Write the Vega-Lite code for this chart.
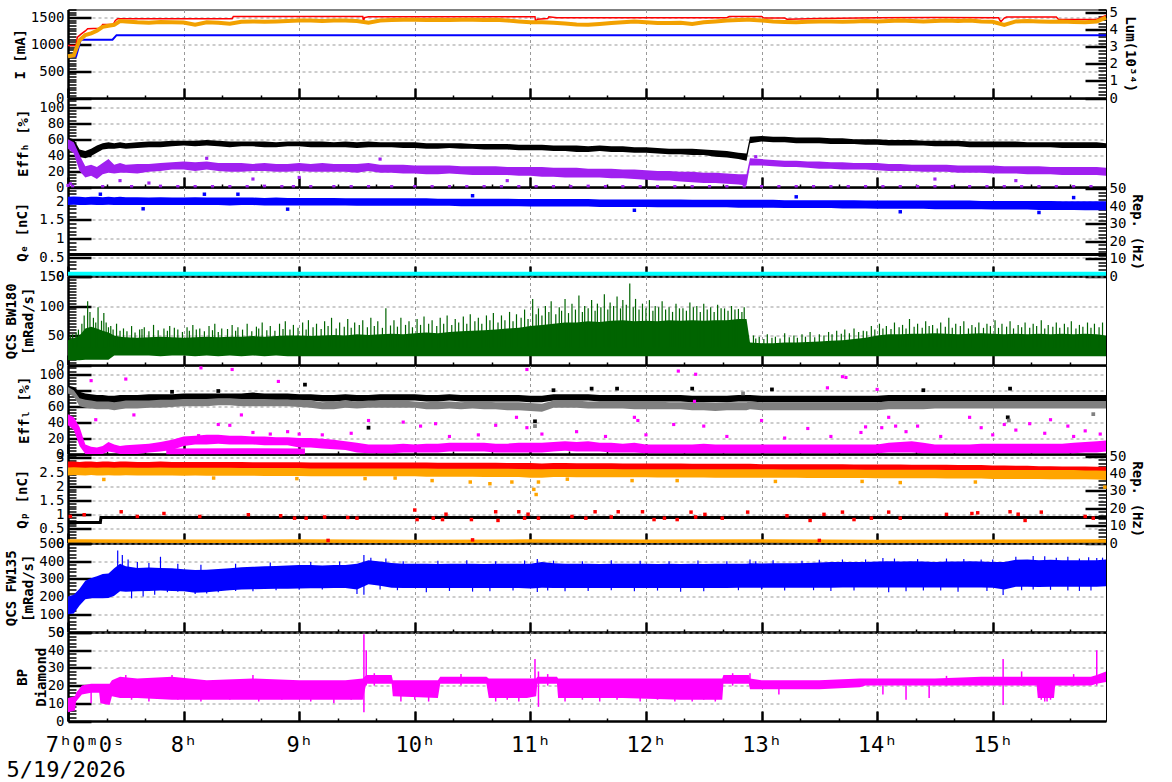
{
"$schema":"https://vega.github.io/schema/vega-lite/v6.json",
"padding":{"left":3,"top":1.5,"right":0,"bottom":0},
"background":"white",
"bounds":"flush",
"spacing":0,
"config":{
 "view":{"stroke":"#000000","strokeWidth":1},
 "font":"DejaVu Sans Mono",
 "axis":{"labelFont":"DejaVu Sans Mono","labelFontSize":14,"labelColor":"#000000","titleFont":"DejaVu Sans Mono","titleFontSize":14,"titleFontWeight":"bold","titleColor":"#000000","domainColor":"#000000","tickColor":"#000000","gridColor":"#999999","gridDash":[3,3],"gridWidth":1,"titleLineHeight":17,"labelOverlap":false,"labelBound":false,"labelFlush":false},
 "axisLeft":{"titleBaseline":"middle","titleAngle":-90,"labelPadding":27,"domainWidth":2.5},
 "axisRight":{"titleBaseline":"middle","titleAngle":90,"labelPadding":24,"domain":false,"grid":false},
 "axisBottom":{"domainWidth":2.5}
},
"datasets":{
"m":[
{"t":7,"o":2.45,"hb0":52,"hb1":62,"hp0":48,"hp1":60,"q0":1.9,"q1":2.12,"g0":8,"g1":42,"lb0":76,"lb1":86,"lg0":76,"lg1":84,"lm0":36,"lm1":50,"pr0":2.62,"pr1":2.87,"po0":2.38,"po1":2.66,"f0":100,"f1":200},
{"t":7.05,"o":2.5,"hb0":48,"hb1":60,"hp0":42,"hp1":56,"q0":1.91,"q1":2.13,"g0":8,"g1":45,"lb0":74,"lb1":84,"lg0":72,"lg1":80,"lm0":30,"lm1":46,"pr0":2.63,"pr1":2.87,"po0":2.4,"po1":2.67,"f0":105,"f1":210},
{"t":7.1,"o":3.4,"hb0":38,"hb1":47,"hp0":20,"hp1":40,"q0":1.9,"q1":2.12,"g0":8,"g1":50,"lb0":68,"lb1":78,"lg0":60,"lg1":70,"lm0":10,"lm1":34,"pr0":2.62,"pr1":2.86,"po0":2.39,"po1":2.66,"f0":150,"f1":245},
{"t":7.15,"o":3.7,"hb0":36,"hb1":45,"hp0":12,"hp1":26,"q0":1.9,"q1":2.11,"g0":9,"g1":62,"lb0":66,"lb1":76,"lg0":58,"lg1":68,"lm0":0,"lm1":12,"pr0":2.62,"pr1":2.87,"po0":2.38,"po1":2.65,"f0":185,"f1":290},
{"t":7.2,"o":3.8,"hb0":39,"hb1":48,"hp0":14,"hp1":28,"q0":1.91,"q1":2.12,"g0":9,"g1":65,"lb0":66,"lb1":75,"lg0":57,"lg1":67,"lm0":0,"lm1":9,"pr0":2.63,"pr1":2.87,"po0":2.4,"po1":2.66,"f0":190,"f1":305},
{"t":7.25,"o":3.95,"hb0":43,"hb1":52,"hp0":10,"hp1":25,"q0":1.9,"q1":2.12,"g0":9,"g1":62,"lb0":65,"lb1":74,"lg0":56,"lg1":66,"lm0":0,"lm1":8,"pr0":2.62,"pr1":2.86,"po0":2.38,"po1":2.65,"f0":190,"f1":315},
{"t":7.3,"o":4.18,"hb0":47,"hb1":55,"hp0":16,"hp1":30,"q0":1.9,"q1":2.11,"g0":9,"g1":58,"lb0":65,"lb1":74,"lg0":56,"lg1":66,"lm0":0,"lm1":10,"pr0":2.62,"pr1":2.87,"po0":2.38,"po1":2.66,"f0":190,"f1":328},
{"t":7.35,"o":4.25,"hb0":48,"hb1":56,"hp0":18,"hp1":35,"q0":1.91,"q1":2.12,"g0":9,"g1":55,"lb0":64,"lb1":73,"lg0":56,"lg1":66,"lm0":3,"lm1":15,"pr0":2.63,"pr1":2.87,"po0":2.39,"po1":2.66,"f0":192,"f1":330},
{"t":7.4,"o":4.3,"hb0":48,"hb1":55,"hp0":17,"hp1":28,"q0":1.9,"q1":2.11,"g0":16,"g1":50,"lb0":64,"lb1":73,"lg0":55,"lg1":65,"lm0":2,"lm1":12,"pr0":2.62,"pr1":2.86,"po0":2.38,"po1":2.65,"f0":205,"f1":360},
{"t":7.45,"o":4.52,"hb0":49,"hb1":56,"hp0":18,"hp1":30,"q0":1.9,"q1":2.12,"g0":16,"g1":48,"lb0":65,"lb1":74,"lg0":56,"lg1":66,"lm0":0,"lm1":10,"pr0":2.62,"pr1":2.87,"po0":2.38,"po1":2.66,"f0":230,"f1":385},
{"t":7.5,"o":4.5,"hb0":48,"hb1":55,"hp0":18,"hp1":28,"q0":1.9,"q1":2.11,"g0":16,"g1":47,"lb0":65,"lb1":74,"lg0":57,"lg1":67,"lm0":0,"lm1":11,"pr0":2.63,"pr1":2.87,"po0":2.39,"po1":2.66,"f0":228,"f1":372},
{"t":7.6,"o":4.45,"hb0":49,"hb1":56,"hp0":17,"hp1":29,"q0":1.9,"q1":2.11,"g0":16,"g1":46,"lb0":66,"lb1":74,"lg0":57,"lg1":67,"lm0":0,"lm1":12,"pr0":2.62,"pr1":2.86,"po0":2.38,"po1":2.65,"f0":230,"f1":362},
{"t":7.7,"o":4.42,"hb0":50,"hb1":57,"hp0":19,"hp1":29,"q0":1.9,"q1":2.1,"g0":16,"g1":47,"lb0":66,"lb1":75,"lg0":58,"lg1":67,"lm0":2,"lm1":13,"pr0":2.62,"pr1":2.86,"po0":2.38,"po1":2.65,"f0":232,"f1":365},
{"t":7.8,"o":4.47,"hb0":50,"hb1":57,"hp0":20,"hp1":30,"q0":1.9,"q1":2.11,"g0":15,"g1":48,"lb0":67,"lb1":75,"lg0":58,"lg1":68,"lm0":3,"lm1":15,"pr0":2.62,"pr1":2.87,"po0":2.38,"po1":2.66,"f0":235,"f1":362},
{"t":7.9,"o":4.45,"hb0":51,"hb1":58,"hp0":22,"hp1":31,"q0":1.9,"q1":2.1,"g0":16,"g1":47,"lb0":67,"lb1":75,"lg0":59,"lg1":68,"lm0":5,"lm1":18,"pr0":2.62,"pr1":2.86,"po0":2.38,"po1":2.65,"f0":232,"f1":360},
{"t":8,"o":4.44,"hb0":52,"hb1":58,"hp0":22,"hp1":32,"q0":1.9,"q1":2.1,"g0":16,"g1":46,"lb0":68,"lb1":76,"lg0":60,"lg1":69,"lm0":10,"lm1":22,"pr0":2.62,"pr1":2.86,"po0":2.37,"po1":2.65,"f0":230,"f1":355},
{"t":8.1,"o":4.3,"hb0":51,"hb1":58,"hp0":20,"hp1":31,"q0":1.9,"q1":2.11,"g0":15,"g1":47,"lb0":68,"lb1":76,"lg0":60,"lg1":69,"lm0":12,"lm1":23,"pr0":2.62,"pr1":2.86,"po0":2.38,"po1":2.65,"f0":222,"f1":350},
{"t":8.2,"o":4.45,"hb0":52,"hb1":59,"hp0":22,"hp1":32,"q0":1.9,"q1":2.1,"g0":16,"g1":48,"lb0":68,"lb1":76,"lg0":60,"lg1":69,"lm0":12,"lm1":24,"pr0":2.62,"pr1":2.86,"po0":2.37,"po1":2.65,"f0":225,"f1":352},
{"t":8.3,"o":4.42,"hb0":51,"hb1":58,"hp0":20,"hp1":30,"q0":1.9,"q1":2.1,"g0":15,"g1":47,"lb0":68,"lb1":76,"lg0":61,"lg1":70,"lm0":13,"lm1":24,"pr0":2.62,"pr1":2.86,"po0":2.37,"po1":2.65,"f0":230,"f1":356},
{"t":8.4,"o":4.36,"hb0":50,"hb1":57,"hp0":19,"hp1":30,"q0":1.89,"q1":2.1,"g0":16,"g1":48,"lb0":68,"lb1":76,"lg0":61,"lg1":70,"lm0":12,"lm1":23,"pr0":2.61,"pr1":2.86,"po0":2.37,"po1":2.65,"f0":236,"f1":360},
{"t":8.5,"o":4.48,"hb0":51,"hb1":57,"hp0":19,"hp1":30,"q0":1.9,"q1":2.1,"g0":15,"g1":48,"lb0":68,"lb1":76,"lg0":60,"lg1":69,"lm0":12,"lm1":23,"pr0":2.62,"pr1":2.86,"po0":2.37,"po1":2.64,"f0":240,"f1":366},
{"t":8.6,"o":4.5,"hb0":51,"hb1":57,"hp0":20,"hp1":29,"q0":1.9,"q1":2.1,"g0":16,"g1":49,"lb0":68,"lb1":77,"lg0":60,"lg1":69,"lm0":12,"lm1":22,"pr0":2.61,"pr1":2.85,"po0":2.37,"po1":2.64,"f0":242,"f1":368},
{"t":8.7,"o":4.48,"hb0":50,"hb1":57,"hp0":20,"hp1":30,"q0":1.89,"q1":2.09,"g0":15,"g1":48,"lb0":68,"lb1":76,"lg0":60,"lg1":69,"lm0":11,"lm1":22,"pr0":2.62,"pr1":2.85,"po0":2.36,"po1":2.64,"f0":243,"f1":372},
{"t":8.8,"o":4.5,"hb0":50,"hb1":56,"hp0":19,"hp1":29,"q0":1.89,"q1":2.1,"g0":16,"g1":49,"lb0":68,"lb1":76,"lg0":60,"lg1":68,"lm0":11,"lm1":21,"pr0":2.61,"pr1":2.85,"po0":2.36,"po1":2.64,"f0":245,"f1":373},
{"t":8.9,"o":4.52,"hb0":51,"hb1":57,"hp0":19,"hp1":29,"q0":1.89,"q1":2.09,"g0":15,"g1":50,"lb0":68,"lb1":76,"lg0":60,"lg1":68,"lm0":11,"lm1":21,"pr0":2.61,"pr1":2.85,"po0":2.36,"po1":2.64,"f0":245,"f1":376},
{"t":9,"o":4.55,"hb0":51,"hb1":57,"hp0":20,"hp1":30,"q0":1.89,"q1":2.09,"g0":15,"g1":50,"lb0":67,"lb1":75,"lg0":59,"lg1":68,"lm0":8,"lm1":20,"pr0":2.61,"pr1":2.85,"po0":2.36,"po1":2.64,"f0":246,"f1":378},
{"t":9.1,"o":4.55,"hb0":50,"hb1":57,"hp0":19,"hp1":29,"q0":1.89,"q1":2.09,"g0":15,"g1":49,"lb0":67,"lb1":75,"lg0":58,"lg1":67,"lm0":8,"lm1":20,"pr0":2.6,"pr1":2.84,"po0":2.35,"po1":2.63,"f0":247,"f1":378},
{"t":9.2,"o":4.52,"hb0":50,"hb1":57,"hp0":19,"hp1":30,"q0":1.89,"q1":2.09,"g0":15,"g1":50,"lb0":66,"lb1":74,"lg0":56,"lg1":65,"lm0":7,"lm1":19,"pr0":2.6,"pr1":2.84,"po0":2.35,"po1":2.63,"f0":247,"f1":376},
{"t":9.3,"o":4.55,"hb0":50,"hb1":56,"hp0":19,"hp1":29,"q0":1.89,"q1":2.09,"g0":15,"g1":51,"lb0":66,"lb1":74,"lg0":56,"lg1":66,"lm0":6,"lm1":18,"pr0":2.6,"pr1":2.84,"po0":2.35,"po1":2.63,"f0":248,"f1":378},
{"t":9.4,"o":4.56,"hb0":50,"hb1":57,"hp0":19,"hp1":29,"q0":1.89,"q1":2.08,"g0":15,"g1":50,"lb0":67,"lb1":75,"lg0":58,"lg1":67,"lm0":5,"lm1":16,"pr0":2.6,"pr1":2.84,"po0":2.35,"po1":2.63,"f0":248,"f1":379},
{"t":9.5,"o":4.53,"hb0":49,"hb1":56,"hp0":18,"hp1":29,"q0":1.88,"q1":2.08,"g0":15,"g1":52,"lb0":66,"lb1":74,"lg0":57,"lg1":66,"lm0":2,"lm1":14,"pr0":2.6,"pr1":2.84,"po0":2.35,"po1":2.63,"f0":240,"f1":385},
{"t":9.6,"o":4.42,"hb0":50,"hb1":57,"hp0":20,"hp1":30,"q0":1.88,"q1":2.08,"g0":15,"g1":51,"lb0":66,"lb1":74,"lg0":58,"lg1":67,"lm0":1,"lm1":12,"pr0":2.6,"pr1":2.84,"po0":2.35,"po1":2.63,"f0":270,"f1":405},
{"t":9.7,"o":4.55,"hb0":50,"hb1":56,"hp0":18,"hp1":28,"q0":1.88,"q1":2.08,"g0":15,"g1":52,"lb0":67,"lb1":75,"lg0":58,"lg1":67,"lm0":1,"lm1":12,"pr0":2.6,"pr1":2.84,"po0":2.35,"po1":2.63,"f0":262,"f1":398},
{"t":9.8,"o":4.58,"hb0":50,"hb1":56,"hp0":18,"hp1":28,"q0":1.88,"q1":2.08,"g0":15,"g1":53,"lb0":67,"lb1":75,"lg0":58,"lg1":67,"lm0":1,"lm1":12,"pr0":2.6,"pr1":2.84,"po0":2.35,"po1":2.63,"f0":250,"f1":390},
{"t":9.9,"o":4.6,"hb0":49,"hb1":56,"hp0":17,"hp1":28,"q0":1.88,"q1":2.08,"g0":15,"g1":52,"lb0":67,"lb1":75,"lg0":58,"lg1":67,"lm0":2,"lm1":13,"pr0":2.6,"pr1":2.84,"po0":2.35,"po1":2.63,"f0":248,"f1":386},
{"t":10,"o":4.6,"hb0":49,"hb1":56,"hp0":17,"hp1":27,"q0":1.88,"q1":2.08,"g0":15,"g1":54,"lb0":67,"lb1":75,"lg0":58,"lg1":66,"lm0":2,"lm1":12,"pr0":2.6,"pr1":2.84,"po0":2.35,"po1":2.63,"f0":248,"f1":385},
{"t":10.1,"o":4.58,"hb0":48,"hb1":55,"hp0":16,"hp1":27,"q0":1.88,"q1":2.08,"g0":15,"g1":55,"lb0":66,"lb1":74,"lg0":56,"lg1":65,"lm0":2,"lm1":13,"pr0":2.6,"pr1":2.84,"po0":2.34,"po1":2.63,"f0":248,"f1":386},
{"t":10.2,"o":4.6,"hb0":48,"hb1":55,"hp0":16,"hp1":27,"q0":1.88,"q1":2.07,"g0":15,"g1":54,"lb0":66,"lb1":74,"lg0":56,"lg1":66,"lm0":2,"lm1":13,"pr0":2.6,"pr1":2.83,"po0":2.34,"po1":2.62,"f0":249,"f1":384},
{"t":10.3,"o":4.58,"hb0":49,"hb1":55,"hp0":17,"hp1":27,"q0":1.88,"q1":2.07,"g0":15,"g1":56,"lb0":67,"lb1":75,"lg0":57,"lg1":66,"lm0":3,"lm1":14,"pr0":2.59,"pr1":2.83,"po0":2.34,"po1":2.62,"f0":248,"f1":386},
{"t":10.4,"o":4.6,"hb0":48,"hb1":55,"hp0":16,"hp1":26,"q0":1.87,"q1":2.07,"g0":15,"g1":57,"lb0":66,"lb1":74,"lg0":56,"lg1":65,"lm0":3,"lm1":14,"pr0":2.59,"pr1":2.83,"po0":2.34,"po1":2.62,"f0":248,"f1":385},
{"t":10.5,"o":4.6,"hb0":48,"hb1":54,"hp0":15,"hp1":26,"q0":1.87,"q1":2.07,"g0":15,"g1":58,"lb0":66,"lb1":74,"lg0":57,"lg1":66,"lm0":3,"lm1":14,"pr0":2.59,"pr1":2.83,"po0":2.34,"po1":2.62,"f0":249,"f1":386},
{"t":10.6,"o":4.58,"hb0":47,"hb1":54,"hp0":15,"hp1":26,"q0":1.87,"q1":2.07,"g0":15,"g1":59,"lb0":66,"lb1":74,"lg0":56,"lg1":66,"lm0":3,"lm1":14,"pr0":2.59,"pr1":2.83,"po0":2.33,"po1":2.62,"f0":248,"f1":384},
{"t":10.7,"o":4.6,"hb0":47,"hb1":54,"hp0":15,"hp1":26,"q0":1.87,"q1":2.07,"g0":15,"g1":60,"lb0":66,"lb1":74,"lg0":56,"lg1":65,"lm0":2,"lm1":13,"pr0":2.59,"pr1":2.83,"po0":2.33,"po1":2.62,"f0":248,"f1":385},
{"t":10.8,"o":4.55,"hb0":47,"hb1":54,"hp0":15,"hp1":25,"q0":1.87,"q1":2.07,"g0":15,"g1":62,"lb0":66,"lb1":74,"lg0":55,"lg1":65,"lm0":2,"lm1":13,"pr0":2.58,"pr1":2.82,"po0":2.33,"po1":2.62,"f0":248,"f1":386},
{"t":10.9,"o":4.5,"hb0":46,"hb1":53,"hp0":14,"hp1":25,"q0":1.87,"q1":2.06,"g0":15,"g1":63,"lb0":66,"lb1":74,"lg0":55,"lg1":65,"lm0":2,"lm1":14,"pr0":2.58,"pr1":2.82,"po0":2.33,"po1":2.61,"f0":248,"f1":385},
{"t":11,"o":4.45,"hb0":46,"hb1":53,"hp0":14,"hp1":25,"q0":1.86,"q1":2.06,"g0":15,"g1":66,"lb0":65,"lb1":73,"lg0":54,"lg1":64,"lm0":2,"lm1":14,"pr0":2.58,"pr1":2.82,"po0":2.3,"po1":2.6,"f0":246,"f1":386},
{"t":11.1,"o":4.45,"hb0":46,"hb1":53,"hp0":13,"hp1":25,"q0":1.86,"q1":2.06,"g0":15,"g1":68,"lb0":65,"lb1":73,"lg0":53,"lg1":63,"lm0":2,"lm1":14,"pr0":2.57,"pr1":2.8,"po0":2.3,"po1":2.6,"f0":250,"f1":395},
{"t":11.2,"o":4.42,"hb0":45,"hb1":52,"hp0":13,"hp1":24,"q0":1.86,"q1":2.06,"g0":15,"g1":70,"lb0":67,"lb1":75,"lg0":58,"lg1":67,"lm0":3,"lm1":15,"pr0":2.58,"pr1":2.82,"po0":2.33,"po1":2.61,"f0":248,"f1":388},
{"t":11.3,"o":4.38,"hb0":45,"hb1":52,"hp0":12,"hp1":24,"q0":1.86,"q1":2.06,"g0":15,"g1":72,"lb0":67,"lb1":75,"lg0":58,"lg1":67,"lm0":4,"lm1":16,"pr0":2.58,"pr1":2.82,"po0":2.33,"po1":2.61,"f0":248,"f1":385},
{"t":11.4,"o":4.32,"hb0":44,"hb1":52,"hp0":12,"hp1":24,"q0":1.86,"q1":2.06,"g0":15,"g1":72,"lb0":67,"lb1":75,"lg0":58,"lg1":67,"lm0":3,"lm1":15,"pr0":2.58,"pr1":2.81,"po0":2.32,"po1":2.61,"f0":248,"f1":386},
{"t":11.5,"o":4.3,"hb0":44,"hb1":51,"hp0":12,"hp1":23,"q0":1.86,"q1":2.06,"g0":15,"g1":74,"lb0":67,"lb1":75,"lg0":57,"lg1":66,"lm0":3,"lm1":16,"pr0":2.58,"pr1":2.81,"po0":2.32,"po1":2.61,"f0":249,"f1":385},
{"t":11.6,"o":4.35,"hb0":45,"hb1":52,"hp0":12,"hp1":23,"q0":1.85,"q1":2.05,"g0":15,"g1":73,"lb0":66,"lb1":74,"lg0":57,"lg1":66,"lm0":3,"lm1":14,"pr0":2.57,"pr1":2.81,"po0":2.32,"po1":2.61,"f0":248,"f1":384},
{"t":11.7,"o":4.4,"hb0":44,"hb1":51,"hp0":11,"hp1":23,"q0":1.85,"q1":2.05,"g0":15,"g1":75,"lb0":66,"lb1":74,"lg0":57,"lg1":66,"lm0":2,"lm1":14,"pr0":2.57,"pr1":2.81,"po0":2.32,"po1":2.61,"f0":248,"f1":385},
{"t":11.8,"o":4.45,"hb0":44,"hb1":51,"hp0":11,"hp1":22,"q0":1.85,"q1":2.05,"g0":15,"g1":76,"lb0":66,"lb1":74,"lg0":57,"lg1":66,"lm0":2,"lm1":13,"pr0":2.57,"pr1":2.8,"po0":2.32,"po1":2.6,"f0":248,"f1":385},
{"t":11.9,"o":4.5,"hb0":43,"hb1":50,"hp0":10,"hp1":22,"q0":1.85,"q1":2.05,"g0":15,"g1":74,"lb0":66,"lb1":74,"lg0":56,"lg1":66,"lm0":2,"lm1":14,"pr0":2.57,"pr1":2.8,"po0":2.32,"po1":2.6,"f0":249,"f1":386},
{"t":12,"o":4.45,"hb0":43,"hb1":50,"hp0":9,"hp1":21,"q0":1.85,"q1":2.05,"g0":15,"g1":75,"lb0":66,"lb1":74,"lg0":56,"lg1":66,"lm0":1,"lm1":12,"pr0":2.57,"pr1":2.8,"po0":2.32,"po1":2.6,"f0":248,"f1":385},
{"t":12.1,"o":4.4,"hb0":42,"hb1":49,"hp0":8,"hp1":20,"q0":1.84,"q1":2.05,"g0":15,"g1":74,"lb0":66,"lb1":74,"lg0":56,"lg1":66,"lm0":1,"lm1":12,"pr0":2.57,"pr1":2.8,"po0":2.31,"po1":2.6,"f0":248,"f1":384},
{"t":12.2,"o":4.4,"hb0":41,"hb1":48,"hp0":8,"hp1":20,"q0":1.84,"q1":2.05,"g0":15,"g1":76,"lb0":66,"lb1":74,"lg0":56,"lg1":65,"lm0":1,"lm1":12,"pr0":2.56,"pr1":2.8,"po0":2.31,"po1":2.6,"f0":248,"f1":385},
{"t":12.3,"o":4.42,"hb0":41,"hb1":48,"hp0":7,"hp1":19,"q0":1.84,"q1":2.05,"g0":15,"g1":75,"lb0":66,"lb1":74,"lg0":56,"lg1":65,"lm0":1,"lm1":12,"pr0":2.56,"pr1":2.8,"po0":2.31,"po1":2.6,"f0":248,"f1":384},
{"t":12.4,"o":4.35,"hb0":40,"hb1":48,"hp0":6,"hp1":19,"q0":1.84,"q1":2.04,"g0":15,"g1":76,"lb0":65,"lb1":73,"lg0":55,"lg1":65,"lm0":1,"lm1":12,"pr0":2.56,"pr1":2.79,"po0":2.31,"po1":2.6,"f0":248,"f1":385},
{"t":12.5,"o":4.45,"hb0":40,"hb1":47,"hp0":5,"hp1":18,"q0":1.84,"q1":2.04,"g0":15,"g1":75,"lb0":65,"lb1":73,"lg0":55,"lg1":65,"lm0":1,"lm1":13,"pr0":2.56,"pr1":2.79,"po0":2.31,"po1":2.6,"f0":248,"f1":384},
{"t":12.6,"o":4.5,"hb0":38,"hb1":46,"hp0":5,"hp1":18,"q0":1.84,"q1":2.04,"g0":15,"g1":76,"lb0":65,"lb1":73,"lg0":54,"lg1":64,"lm0":1,"lm1":12,"pr0":2.56,"pr1":2.79,"po0":2.3,"po1":2.6,"f0":248,"f1":385},
{"t":12.7,"o":4.55,"hb0":37,"hb1":45,"hp0":4,"hp1":17,"q0":1.84,"q1":2.04,"g0":15,"g1":76,"lb0":65,"lb1":73,"lg0":55,"lg1":65,"lm0":1,"lm1":12,"pr0":2.56,"pr1":2.79,"po0":2.3,"po1":2.6,"f0":248,"f1":385},
{"t":12.8,"o":4.58,"hb0":35,"hb1":43,"hp0":3,"hp1":16,"q0":1.83,"q1":2.04,"g0":15,"g1":78,"lb0":66,"lb1":74,"lg0":55,"lg1":65,"lm0":1,"lm1":12,"pr0":2.56,"pr1":2.79,"po0":2.3,"po1":2.6,"f0":250,"f1":386},
{"t":12.87,"o":4.6,"hb0":33,"hb1":42,"hp0":2,"hp1":16,"q0":1.83,"q1":2.04,"g0":15,"g1":78,"lb0":66,"lb1":74,"lg0":55,"lg1":65,"lm0":1,"lm1":12,"pr0":2.56,"pr1":2.79,"po0":2.3,"po1":2.6,"f0":250,"f1":386},
{"t":12.9,"o":4.6,"hb0":55,"hb1":63,"hp0":27,"hp1":36,"q0":1.83,"q1":2.04,"g0":15,"g1":38,"lb0":66,"lb1":74,"lg0":56,"lg1":66,"lm0":1,"lm1":12,"pr0":2.56,"pr1":2.79,"po0":2.3,"po1":2.6,"f0":250,"f1":388},
{"t":13,"o":4.55,"hb0":57,"hb1":64,"hp0":27,"hp1":35,"q0":1.83,"q1":2.04,"g0":15,"g1":37,"lb0":65,"lb1":73,"lg0":55,"lg1":65,"lm0":1,"lm1":12,"pr0":2.55,"pr1":2.78,"po0":2.3,"po1":2.6,"f0":250,"f1":387},
{"t":13.1,"o":4.5,"hb0":56,"hb1":63,"hp0":26,"hp1":34,"q0":1.83,"q1":2.04,"g0":15,"g1":37,"lb0":65,"lb1":73,"lg0":55,"lg1":65,"lm0":1,"lm1":12,"pr0":2.55,"pr1":2.78,"po0":2.3,"po1":2.6,"f0":250,"f1":388},
{"t":13.2,"o":4.47,"hb0":56,"hb1":63,"hp0":25,"hp1":33,"q0":1.82,"q1":2.03,"g0":15,"g1":38,"lb0":65,"lb1":73,"lg0":55,"lg1":65,"lm0":1,"lm1":12,"pr0":2.55,"pr1":2.78,"po0":2.3,"po1":2.59,"f0":250,"f1":389},
{"t":13.3,"o":4.45,"hb0":55,"hb1":62,"hp0":25,"hp1":33,"q0":1.82,"q1":2.03,"g0":15,"g1":38,"lb0":65,"lb1":73,"lg0":55,"lg1":65,"lm0":1,"lm1":12,"pr0":2.55,"pr1":2.78,"po0":2.3,"po1":2.59,"f0":250,"f1":388},
{"t":13.4,"o":4.48,"hb0":55,"hb1":62,"hp0":24,"hp1":32,"q0":1.82,"q1":2.03,"g0":15,"g1":39,"lb0":65,"lb1":73,"lg0":55,"lg1":65,"lm0":1,"lm1":12,"pr0":2.55,"pr1":2.78,"po0":2.29,"po1":2.59,"f0":250,"f1":390},
{"t":13.5,"o":4.5,"hb0":55,"hb1":62,"hp0":23,"hp1":32,"q0":1.82,"q1":2.03,"g0":15,"g1":40,"lb0":65,"lb1":73,"lg0":55,"lg1":65,"lm0":1,"lm1":12,"pr0":2.55,"pr1":2.78,"po0":2.29,"po1":2.59,"f0":250,"f1":392},
{"t":13.6,"o":4.5,"hb0":54,"hb1":61,"hp0":23,"hp1":31,"q0":1.82,"q1":2.03,"g0":15,"g1":41,"lb0":65,"lb1":73,"lg0":55,"lg1":65,"lm0":1,"lm1":12,"pr0":2.55,"pr1":2.78,"po0":2.29,"po1":2.59,"f0":250,"f1":395},
{"t":13.7,"o":4.48,"hb0":54,"hb1":61,"hp0":22,"hp1":31,"q0":1.81,"q1":2.03,"g0":15,"g1":42,"lb0":65,"lb1":73,"lg0":55,"lg1":65,"lm0":1,"lm1":12,"pr0":2.55,"pr1":2.78,"po0":2.29,"po1":2.59,"f0":252,"f1":396},
{"t":13.8,"o":4.5,"hb0":54,"hb1":60,"hp0":22,"hp1":30,"q0":1.81,"q1":2.03,"g0":15,"g1":44,"lb0":65,"lb1":73,"lg0":55,"lg1":65,"lm0":1,"lm1":12,"pr0":2.54,"pr1":2.77,"po0":2.29,"po1":2.59,"f0":252,"f1":395},
{"t":13.9,"o":4.52,"hb0":53,"hb1":60,"hp0":22,"hp1":30,"q0":1.81,"q1":2.02,"g0":15,"g1":46,"lb0":65,"lb1":73,"lg0":55,"lg1":65,"lm0":1,"lm1":12,"pr0":2.54,"pr1":2.77,"po0":2.29,"po1":2.58,"f0":252,"f1":396},
{"t":14,"o":4.5,"hb0":53,"hb1":60,"hp0":21,"hp1":30,"q0":1.8,"q1":2.02,"g0":15,"g1":50,"lb0":65,"lb1":73,"lg0":55,"lg1":65,"lm0":1,"lm1":12,"pr0":2.54,"pr1":2.77,"po0":2.28,"po1":2.58,"f0":252,"f1":398},
{"t":14.1,"o":4.52,"hb0":52,"hb1":59,"hp0":20,"hp1":29,"q0":1.8,"q1":2.02,"g0":15,"g1":52,"lb0":66,"lb1":74,"lg0":56,"lg1":66,"lm0":2,"lm1":14,"pr0":2.54,"pr1":2.77,"po0":2.28,"po1":2.58,"f0":252,"f1":400},
{"t":14.2,"o":4.55,"hb0":52,"hb1":59,"hp0":20,"hp1":29,"q0":1.8,"q1":2.02,"g0":15,"g1":52,"lb0":66,"lb1":74,"lg0":56,"lg1":66,"lm0":2,"lm1":15,"pr0":2.54,"pr1":2.77,"po0":2.28,"po1":2.58,"f0":252,"f1":398},
{"t":14.3,"o":4.52,"hb0":52,"hb1":59,"hp0":20,"hp1":28,"q0":1.8,"q1":2.02,"g0":15,"g1":53,"lb0":66,"lb1":74,"lg0":56,"lg1":66,"lm0":2,"lm1":16,"pr0":2.53,"pr1":2.76,"po0":2.28,"po1":2.58,"f0":252,"f1":400},
{"t":14.4,"o":4.5,"hb0":52,"hb1":58,"hp0":19,"hp1":28,"q0":1.8,"q1":2.02,"g0":15,"g1":53,"lb0":66,"lb1":74,"lg0":56,"lg1":66,"lm0":1,"lm1":14,"pr0":2.53,"pr1":2.76,"po0":2.28,"po1":2.58,"f0":252,"f1":398},
{"t":14.5,"o":4.52,"hb0":51,"hb1":58,"hp0":19,"hp1":28,"q0":1.79,"q1":2.02,"g0":15,"g1":54,"lb0":66,"lb1":74,"lg0":57,"lg1":66,"lm0":1,"lm1":12,"pr0":2.53,"pr1":2.76,"po0":2.28,"po1":2.58,"f0":252,"f1":396},
{"t":14.6,"o":4.55,"hb0":51,"hb1":58,"hp0":19,"hp1":28,"q0":1.79,"q1":2.02,"g0":15,"g1":53,"lb0":66,"lb1":74,"lg0":57,"lg1":66,"lm0":1,"lm1":12,"pr0":2.53,"pr1":2.76,"po0":2.27,"po1":2.57,"f0":252,"f1":398},
{"t":14.7,"o":4.52,"hb0":51,"hb1":58,"hp0":18,"hp1":27,"q0":1.79,"q1":2.02,"g0":15,"g1":52,"lb0":66,"lb1":74,"lg0":57,"lg1":66,"lm0":1,"lm1":12,"pr0":2.52,"pr1":2.75,"po0":2.27,"po1":2.57,"f0":252,"f1":398},
{"t":14.8,"o":4.55,"hb0":50,"hb1":57,"hp0":18,"hp1":27,"q0":1.79,"q1":2.02,"g0":15,"g1":53,"lb0":66,"lb1":74,"lg0":57,"lg1":66,"lm0":1,"lm1":12,"pr0":2.52,"pr1":2.75,"po0":2.27,"po1":2.57,"f0":252,"f1":400},
{"t":14.9,"o":4.5,"hb0":50,"hb1":57,"hp0":18,"hp1":27,"q0":1.79,"q1":2.01,"g0":15,"g1":54,"lb0":66,"lb1":74,"lg0":57,"lg1":66,"lm0":1,"lm1":13,"pr0":2.52,"pr1":2.75,"po0":2.27,"po1":2.57,"f0":252,"f1":398},
{"t":15,"o":4.48,"hb0":50,"hb1":57,"hp0":17,"hp1":27,"q0":1.78,"q1":2.01,"g0":15,"g1":53,"lb0":66,"lb1":74,"lg0":57,"lg1":66,"lm0":1,"lm1":13,"pr0":2.5,"pr1":2.73,"po0":2.26,"po1":2.57,"f0":250,"f1":396},
{"t":15.1,"o":4.3,"hb0":50,"hb1":57,"hp0":17,"hp1":26,"q0":1.78,"q1":2.01,"g0":15,"g1":52,"lb0":66,"lb1":74,"lg0":57,"lg1":66,"lm0":1,"lm1":13,"pr0":2.5,"pr1":2.73,"po0":2.26,"po1":2.57,"f0":240,"f1":395},
{"t":15.2,"o":4.5,"hb0":50,"hb1":57,"hp0":17,"hp1":26,"q0":1.78,"q1":2.01,"g0":15,"g1":53,"lb0":66,"lb1":74,"lg0":57,"lg1":66,"lm0":1,"lm1":13,"pr0":2.5,"pr1":2.72,"po0":2.26,"po1":2.57,"f0":255,"f1":408},
{"t":15.3,"o":4.52,"hb0":50,"hb1":56,"hp0":16,"hp1":26,"q0":1.78,"q1":2.01,"g0":15,"g1":52,"lb0":66,"lb1":74,"lg0":57,"lg1":66,"lm0":1,"lm1":13,"pr0":2.5,"pr1":2.72,"po0":2.26,"po1":2.57,"f0":255,"f1":410},
{"t":15.4,"o":4.5,"hb0":50,"hb1":56,"hp0":16,"hp1":26,"q0":1.77,"q1":2.01,"g0":15,"g1":53,"lb0":66,"lb1":74,"lg0":57,"lg1":66,"lm0":1,"lm1":13,"pr0":2.49,"pr1":2.71,"po0":2.26,"po1":2.57,"f0":254,"f1":405},
{"t":15.5,"o":4.48,"hb0":50,"hb1":56,"hp0":16,"hp1":25,"q0":1.77,"q1":2.01,"g0":15,"g1":52,"lb0":66,"lb1":74,"lg0":57,"lg1":66,"lm0":1,"lm1":13,"pr0":2.49,"pr1":2.71,"po0":2.25,"po1":2.57,"f0":255,"f1":408},
{"t":15.6,"o":4.5,"hb0":49,"hb1":56,"hp0":15,"hp1":25,"q0":1.77,"q1":2.0,"g0":15,"g1":53,"lb0":66,"lb1":74,"lg0":57,"lg1":66,"lm0":1,"lm1":13,"pr0":2.48,"pr1":2.7,"po0":2.25,"po1":2.57,"f0":255,"f1":406},
{"t":15.7,"o":4.47,"hb0":49,"hb1":56,"hp0":15,"hp1":25,"q0":1.77,"q1":2.0,"g0":15,"g1":52,"lb0":66,"lb1":74,"lg0":57,"lg1":66,"lm0":1,"lm1":14,"pr0":2.48,"pr1":2.7,"po0":2.25,"po1":2.57,"f0":255,"f1":405},
{"t":15.8,"o":4.45,"hb0":49,"hb1":56,"hp0":15,"hp1":25,"q0":1.76,"q1":2.0,"g0":15,"g1":53,"lb0":66,"lb1":74,"lg0":57,"lg1":66,"lm0":2,"lm1":15,"pr0":2.48,"pr1":2.7,"po0":2.25,"po1":2.56,"f0":255,"f1":406},
{"t":15.9,"o":4.5,"hb0":49,"hb1":56,"hp0":15,"hp1":25,"q0":1.76,"q1":2.0,"g0":15,"g1":52,"lb0":66,"lb1":74,"lg0":57,"lg1":66,"lm0":2,"lm1":16,"pr0":2.47,"pr1":2.69,"po0":2.24,"po1":2.56,"f0":255,"f1":406},
{"t":15.98,"o":4.72,"hb0":49,"hb1":55,"hp0":14,"hp1":24,"q0":1.76,"q1":2.0,"g0":15,"g1":50,"lb0":66,"lb1":74,"lg0":57,"lg1":66,"lm0":3,"lm1":17,"pr0":2.47,"pr1":2.69,"po0":2.22,"po1":2.55,"f0":258,"f1":410}
],
"bp":[{"t":7,"lo":5,"hi":13},{"t":7.06,"lo":6,"hi":14},{"t":7.07,"lo":11,"hi":16},{"t":7.12,"lo":15,"hi":20},{"t":7.2,"lo":16,"hi":21},{"t":7.27,"lo":16,"hi":21},{"t":7.28,"lo":10,"hi":21},{"t":7.36,"lo":9,"hi":21},{"t":7.38,"lo":14,"hi":23},{"t":7.45,"lo":13,"hi":25},{"t":7.6,"lo":13,"hi":24},{"t":7.9,"lo":12,"hi":25},{"t":8.2,"lo":12,"hi":23},{"t":8.6,"lo":12,"hi":24},{"t":9,"lo":12,"hi":23},{"t":9.4,"lo":12,"hi":23},{"t":9.55,"lo":12,"hi":24},{"t":9.58,"lo":21,"hi":26},{"t":9.8,"lo":21,"hi":26},{"t":9.81,"lo":14,"hi":23},{"t":10.2,"lo":13,"hi":23},{"t":10.22,"lo":21,"hi":25},{"t":10.62,"lo":21,"hi":25},{"t":10.64,"lo":13,"hi":24},{"t":10.97,"lo":13,"hi":24},{"t":11.05,"lo":14,"hi":24},{"t":11.06,"lo":21,"hi":25},{"t":11.23,"lo":21,"hi":25},{"t":11.24,"lo":13,"hi":24},{"t":11.8,"lo":13,"hi":24},{"t":12.3,"lo":12,"hi":24},{"t":12.66,"lo":12,"hi":24},{"t":12.67,"lo":21,"hi":26},{"t":12.89,"lo":21,"hi":26},{"t":12.9,"lo":18,"hi":24},{"t":13,"lo":18,"hi":23},{"t":13.5,"lo":18,"hi":23},{"t":13.85,"lo":19,"hi":24},{"t":13.9,"lo":20,"hi":24},{"t":14.5,"lo":20,"hi":24},{"t":14.9,"lo":20,"hi":25},{"t":15.38,"lo":20,"hi":25},{"t":15.39,"lo":13,"hi":25},{"t":15.53,"lo":13,"hi":25},{"t":15.54,"lo":20,"hi":25},{"t":15.85,"lo":20,"hi":25},{"t":15.9,"lo":21,"hi":26},{"t":15.98,"lo":22,"hi":28}],
"ir":[{"t":7,"v":980},{"t":7.07,"v":980},{"t":7.08,"v":1130},{"t":7.11,"v":1185},{"t":7.15,"v":1250},{"t":7.17,"v":1290},{"t":7.27,"v":1300},{"t":7.29,"v":1340},{"t":7.3,"v":1370},{"t":7.39,"v":1370},{"t":7.41,"v":1445},{"t":7.43,"v":1478},{"t":8.42,"v":1478},{"t":8.43,"v":1520},{"t":9.55,"v":1520},{"t":9.556,"v":1430},{"t":9.565,"v":1500},{"t":9.6,"v":1515},{"t":11.04,"v":1515},{"t":11.045,"v":1420},{"t":11.06,"v":1470},{"t":11.15,"v":1480},{"t":11.16,"v":1515},{"t":11.23,"v":1497},{"t":12.7,"v":1497},{"t":12.72,"v":1520},{"t":13,"v":1520},{"t":13.02,"v":1490},{"t":13.2,"v":1490},{"t":13.22,"v":1470},{"t":13.5,"v":1480},{"t":14,"v":1495},{"t":14.5,"v":1500},{"t":15.05,"v":1495},{"t":15.07,"v":1420},{"t":15.1,"v":1490},{"t":15.12,"v":1510},{"t":15.55,"v":1510},{"t":15.57,"v":1465},{"t":15.9,"v":1465},{"t":15.98,"v":1540}],
"ib":[{"t":7,"v":775},{"t":7.07,"v":775},{"t":7.11,"v":1086},{"t":7.385,"v":1086},{"t":7.42,"v":1172},{"t":15.98,"v":1172}],
"rep":[
{"s":"ek","t":7,"v":12.3},{"s":"ek","t":15.98,"v":12.3},
{"s":"ec","t":7,"v":1.25},{"s":"ec","t":15.98,"v":1.25},
{"s":"pk","t":7,"v":11.8},{"s":"pk","t":7.28,"v":11.8},{"s":"pk","t":7.285,"v":14.7},{"s":"pk","t":15.98,"v":14.7},
{"s":"pc","t":7,"v":1.2},{"s":"pc","t":8,"v":1.0},{"s":"pc","t":9,"v":1.1},{"s":"pc","t":10,"v":0.9},{"s":"pc","t":11,"v":1.1},{"s":"pc","t":12,"v":1.0},{"s":"pc","t":13,"v":1.1},{"s":"pc","t":14,"v":0.9},{"s":"pc","t":15,"v":1.0},{"s":"pc","t":15.98,"v":1.1},
{"s":"lm2","t":7.85,"v":3},{"s":"lm2","t":8.5,"v":3.5},{"s":"lm2","t":9.05,"v":3}
],
"sp":[
{"s":"g","t":7.02,"v":50},{"s":"g","t":7.07,"v":55},{"s":"g","t":7.12,"v":70},{"s":"g","t":7.17,"v":108},{"s":"g","t":7.22,"v":80},{"s":"g","t":7.26,"v":98},{"s":"g","t":7.29,"v":75},{"s":"g","t":7.33,"v":72},{"s":"g","t":7.37,"v":66},{"s":"g","t":7.42,"v":70},{"s":"g","t":7.48,"v":62},{"s":"g","t":7.55,"v":66},{"s":"g","t":7.62,"v":60},{"s":"g","t":7.66,"v":64},{"s":"g","t":7.74,"v":68},{"s":"g","t":7.83,"v":62},{"s":"g","t":7.88,"v":66},{"s":"g","t":7.95,"v":60},{"s":"g","t":8.03,"v":64},{"s":"g","t":8.08,"v":68},{"s":"g","t":8.14,"v":62},{"s":"g","t":8.22,"v":66},{"s":"g","t":8.27,"v":70},{"s":"g","t":8.33,"v":62},{"s":"g","t":8.42,"v":68},{"s":"g","t":8.47,"v":64},{"s":"g","t":8.55,"v":70},{"s":"g","t":8.63,"v":65},{"s":"g","t":8.68,"v":72},{"s":"g","t":8.75,"v":66},{"s":"g","t":8.83,"v":70},{"s":"g","t":8.88,"v":74},{"s":"g","t":8.95,"v":68},{"s":"g","t":9.03,"v":72},{"s":"g","t":9.08,"v":76},{"s":"g","t":9.15,"v":70},{"s":"g","t":9.22,"v":74},{"s":"g","t":9.28,"v":80},{"s":"g","t":9.35,"v":72},{"s":"g","t":9.42,"v":78},{"s":"g","t":9.48,"v":72},{"s":"g","t":9.55,"v":76},{"s":"g","t":9.62,"v":80},{"s":"g","t":9.68,"v":74},{"s":"g","t":9.75,"v":96},{"s":"g","t":9.82,"v":76},{"s":"g","t":9.88,"v":80},{"s":"g","t":9.95,"v":74},{"s":"g","t":10.02,"v":78},{"s":"g","t":10.08,"v":82},{"s":"g","t":10.15,"v":76},{"s":"g","t":10.22,"v":80},{"s":"g","t":10.28,"v":84},{"s":"g","t":10.35,"v":78},{"s":"g","t":10.42,"v":82},{"s":"g","t":10.48,"v":86},{"s":"g","t":10.55,"v":80},{"s":"g","t":10.62,"v":84},{"s":"g","t":10.68,"v":88},{"s":"g","t":10.75,"v":84},{"s":"g","t":10.82,"v":90},{"s":"g","t":10.88,"v":86},{"s":"g","t":10.95,"v":94},{"s":"g","t":11.02,"v":112},{"s":"g","t":11.07,"v":96},{"s":"g","t":11.13,"v":100},{"s":"g","t":11.18,"v":108},{"s":"g","t":11.25,"v":98},{"s":"g","t":11.3,"v":112},{"s":"g","t":11.36,"v":104},{"s":"g","t":11.42,"v":118},{"s":"g","t":11.47,"v":100},{"s":"g","t":11.53,"v":110},{"s":"g","t":11.58,"v":104},{"s":"g","t":11.64,"v":120},{"s":"g","t":11.69,"v":106},{"s":"g","t":11.75,"v":116},{"s":"g","t":11.8,"v":110},{"s":"g","t":11.86,"v":138},{"s":"g","t":11.91,"v":112},{"s":"g","t":11.97,"v":104},{"s":"g","t":12.03,"v":110},{"s":"g","t":12.08,"v":100},{"s":"g","t":12.14,"v":108},{"s":"g","t":12.2,"v":98},{"s":"g","t":12.26,"v":104},{"s":"g","t":12.32,"v":96},{"s":"g","t":12.38,"v":106},{"s":"g","t":12.44,"v":100},{"s":"g","t":12.5,"v":104},{"s":"g","t":12.56,"v":98},{"s":"g","t":12.62,"v":102},{"s":"g","t":12.68,"v":96},{"s":"g","t":12.74,"v":100},{"s":"g","t":12.8,"v":95},{"s":"g","t":12.85,"v":98},{"s":"g","t":12.93,"v":50},{"s":"g","t":12.98,"v":48},{"s":"g","t":13.05,"v":52},{"s":"g","t":13.12,"v":48},{"s":"g","t":13.2,"v":54},{"s":"g","t":13.28,"v":50},{"s":"g","t":13.35,"v":52},{"s":"g","t":13.42,"v":56},{"s":"g","t":13.5,"v":52},{"s":"g","t":13.58,"v":56},{"s":"g","t":13.65,"v":58},{"s":"g","t":13.72,"v":60},{"s":"g","t":13.8,"v":62},{"s":"g","t":13.88,"v":58},{"s":"g","t":13.95,"v":66},{"s":"g","t":14.02,"v":70},{"s":"g","t":14.08,"v":66},{"s":"g","t":14.15,"v":72},{"s":"g","t":14.22,"v":68},{"s":"g","t":14.28,"v":78},{"s":"g","t":14.35,"v":70},{"s":"g","t":14.42,"v":74},{"s":"g","t":14.48,"v":68},{"s":"g","t":14.55,"v":72},{"s":"g","t":14.62,"v":80},{"s":"g","t":14.68,"v":70},{"s":"g","t":14.75,"v":74},{"s":"g","t":14.82,"v":68},{"s":"g","t":14.88,"v":72},{"s":"g","t":14.95,"v":70},{"s":"g","t":15.02,"v":76},{"s":"g","t":15.08,"v":70},{"s":"g","t":15.15,"v":74},{"s":"g","t":15.22,"v":68},{"s":"g","t":15.28,"v":72},{"s":"g","t":15.35,"v":70},{"s":"g","t":15.42,"v":76},{"s":"g","t":15.48,"v":68},{"s":"g","t":15.55,"v":72},{"s":"g","t":15.62,"v":70},{"s":"g","t":15.68,"v":74},{"s":"g","t":15.75,"v":68},{"s":"g","t":15.82,"v":72},{"s":"g","t":15.88,"v":70},{"s":"g","t":15.95,"v":72},
{"s":"g","t":7.04,"v":52},{"s":"g","t":7.09,"v":60},{"s":"g","t":7.14,"v":84},{"s":"g","t":7.19,"v":90},{"s":"g","t":7.24,"v":72},{"s":"g","t":7.31,"v":88},{"s":"g","t":7.35,"v":64},{"s":"g","t":7.39,"v":60},{"s":"g","t":7.45,"v":58},{"s":"g","t":7.51,"v":57},{"s":"g","t":7.58,"v":55},{"s":"g","t":7.64,"v":61},{"s":"g","t":7.7,"v":57},{"s":"g","t":7.78,"v":59},{"s":"g","t":7.86,"v":58},{"s":"g","t":7.92,"v":63},{"s":"g","t":7.99,"v":56},{"s":"g","t":8.05,"v":58},{"s":"g","t":8.11,"v":60},{"s":"g","t":8.18,"v":57},{"s":"g","t":8.25,"v":59},{"s":"g","t":8.3,"v":56},{"s":"g","t":8.38,"v":61},{"s":"g","t":8.45,"v":58},{"s":"g","t":8.51,"v":60},{"s":"g","t":8.59,"v":57},{"s":"g","t":8.65,"v":62},{"s":"g","t":8.72,"v":59},{"s":"g","t":8.79,"v":58},{"s":"g","t":8.86,"v":61},{"s":"g","t":8.92,"v":60},{"s":"g","t":8.99,"v":63},{"s":"g","t":9.06,"v":60},{"s":"g","t":9.12,"v":64},{"s":"g","t":9.19,"v":61},{"s":"g","t":9.25,"v":66},{"s":"g","t":9.32,"v":62},{"s":"g","t":9.39,"v":65},{"s":"g","t":9.45,"v":63},{"s":"g","t":9.52,"v":68},{"s":"g","t":9.59,"v":64},{"s":"g","t":9.65,"v":66},{"s":"g","t":9.72,"v":63},{"s":"g","t":9.79,"v":67},{"s":"g","t":9.85,"v":65},{"s":"g","t":9.92,"v":68},{"s":"g","t":9.98,"v":64},{"s":"g","t":10.05,"v":68},{"s":"g","t":10.12,"v":70},{"s":"g","t":10.19,"v":66},{"s":"g","t":10.25,"v":70},{"s":"g","t":10.32,"v":68},{"s":"g","t":10.38,"v":72},{"s":"g","t":10.45,"v":70},{"s":"g","t":10.52,"v":74},{"s":"g","t":10.58,"v":70},{"s":"g","t":10.65,"v":76},{"s":"g","t":10.72,"v":72},{"s":"g","t":10.78,"v":76},{"s":"g","t":10.85,"v":74},{"s":"g","t":10.92,"v":80},{"s":"g","t":10.98,"v":78},{"s":"g","t":11.05,"v":86},{"s":"g","t":11.1,"v":84},{"s":"g","t":11.16,"v":90},{"s":"g","t":11.22,"v":86},{"s":"g","t":11.27,"v":92},{"s":"g","t":11.33,"v":88},{"s":"g","t":11.39,"v":94},{"s":"g","t":11.45,"v":90},{"s":"g","t":11.5,"v":96},{"s":"g","t":11.56,"v":92},{"s":"g","t":11.61,"v":98},{"s":"g","t":11.67,"v":94},{"s":"g","t":11.72,"v":100},{"s":"g","t":11.78,"v":96},{"s":"g","t":11.83,"v":102},{"s":"g","t":11.89,"v":98},{"s":"g","t":11.94,"v":94},{"s":"g","t":12,"v":96},{"s":"g","t":12.06,"v":92},{"s":"g","t":12.11,"v":98},{"s":"g","t":12.17,"v":94},{"s":"g","t":12.23,"v":90},{"s":"g","t":12.29,"v":96},{"s":"g","t":12.35,"v":92},{"s":"g","t":12.41,"v":98},{"s":"g","t":12.47,"v":90},{"s":"g","t":12.53,"v":94},{"s":"g","t":12.59,"v":90},{"s":"g","t":12.65,"v":96},{"s":"g","t":12.71,"v":92},{"s":"g","t":12.77,"v":94},{"s":"g","t":12.83,"v":90},{"s":"g","t":12.95,"v":45},{"s":"g","t":13.02,"v":44},{"s":"g","t":13.09,"v":46},{"s":"g","t":13.16,"v":45},{"s":"g","t":13.24,"v":47},{"s":"g","t":13.31,"v":46},{"s":"g","t":13.38,"v":48},{"s":"g","t":13.46,"v":47},{"s":"g","t":13.54,"v":50},{"s":"g","t":13.61,"v":52},{"s":"g","t":13.69,"v":53},{"s":"g","t":13.76,"v":54},{"s":"g","t":13.84,"v":56},{"s":"g","t":13.91,"v":57},{"s":"g","t":13.98,"v":60},{"s":"g","t":14.05,"v":62},{"s":"g","t":14.12,"v":61},{"s":"g","t":14.19,"v":64},{"s":"g","t":14.25,"v":62},{"s":"g","t":14.32,"v":65},{"s":"g","t":14.39,"v":63},{"s":"g","t":14.45,"v":66},{"s":"g","t":14.52,"v":62},{"s":"g","t":14.59,"v":65},{"s":"g","t":14.65,"v":63},{"s":"g","t":14.72,"v":66},{"s":"g","t":14.79,"v":62},{"s":"g","t":14.85,"v":64},{"s":"g","t":14.92,"v":63},{"s":"g","t":14.98,"v":66},{"s":"g","t":15.05,"v":63},{"s":"g","t":15.12,"v":65},{"s":"g","t":15.18,"v":62},{"s":"g","t":15.25,"v":64},{"s":"g","t":15.32,"v":63},{"s":"g","t":15.38,"v":66},{"s":"g","t":15.45,"v":62},{"s":"g","t":15.52,"v":65},{"s":"g","t":15.58,"v":63},{"s":"g","t":15.65,"v":64},{"s":"g","t":15.72,"v":62},{"s":"g","t":15.78,"v":65},{"s":"g","t":15.85,"v":63},{"s":"g","t":15.92,"v":64},
{"s":"f","t":7.43,"v":460},{"s":"f","t":7.47,"v":435},{"s":"f","t":7.52,"v":410},{"s":"f","t":7.8,"v":425},{"s":"f","t":9.56,"v":435},{"s":"f","t":9.62,"v":420},{"s":"f","t":11.06,"v":412},{"s":"f","t":12.95,"v":400},{"s":"f","t":13.7,"v":410},{"s":"f","t":14.9,"v":410},{"s":"f","t":15.2,"v":425},{"s":"f","t":15.35,"v":430},{"s":"f","t":15.55,"v":420},{"s":"f","t":15.75,"v":415},{"s":"f","t":15.9,"v":418},
{"s":"f","t":7.6,"v":395},{"s":"f","t":7.7,"v":390},{"s":"f","t":7.95,"v":385},{"s":"f","t":8.15,"v":380},{"s":"f","t":8.45,"v":385},{"s":"f","t":8.75,"v":392},{"s":"f","t":9.1,"v":395},{"s":"f","t":9.35,"v":398},{"s":"f","t":9.75,"v":415},{"s":"f","t":9.9,"v":400},{"s":"f","t":10.2,"v":402},{"s":"f","t":10.45,"v":405},{"s":"f","t":10.7,"v":400},{"s":"f","t":10.95,"v":404},{"s":"f","t":11.2,"v":403},{"s":"f","t":11.45,"v":400},{"s":"f","t":11.7,"v":405},{"s":"f","t":11.95,"v":402},{"s":"f","t":12.2,"v":400},{"s":"f","t":12.45,"v":404},{"s":"f","t":12.7,"v":400},{"s":"f","t":13.1,"v":405},{"s":"f","t":13.35,"v":402},{"s":"f","t":13.5,"v":408},{"s":"f","t":13.9,"v":410},{"s":"f","t":14.05,"v":418},{"s":"f","t":14.15,"v":415},{"s":"f","t":14.35,"v":412},{"s":"f","t":14.6,"v":415},{"s":"f","t":14.75,"v":412},{"s":"f","t":15,"v":410},{"s":"f","t":15.45,"v":428},{"s":"f","t":15.65,"v":425},{"s":"f","t":15.83,"v":422},{"s":"f","t":15.95,"v":420},{"s":"f","t":12.9,"v":410},
{"s":"f","t":7.55,"v":190},{"s":"f","t":7.65,"v":200},{"s":"f","t":7.75,"v":210},{"s":"f","t":7.86,"v":225},{"s":"f","t":8.3,"v":225},{"s":"f","t":8.6,"v":230},{"s":"f","t":9.5,"v":215},{"s":"f","t":9.56,"v":210},{"s":"f","t":10.1,"v":225},{"s":"f","t":10.5,"v":228},{"s":"f","t":11.06,"v":226},{"s":"f","t":11.3,"v":230},{"s":"f","t":11.9,"v":230},{"s":"f","t":12.3,"v":228},{"s":"f","t":13.2,"v":235},{"s":"f","t":13.6,"v":232},{"s":"f","t":14.1,"v":225},{"s":"f","t":14.4,"v":235},{"s":"f","t":15.09,"v":209},{"s":"f","t":15.5,"v":238},{"s":"f","t":15.85,"v":235},
{"s":"f","t":7.95,"v":228},{"s":"f","t":8.1,"v":215},{"s":"f","t":8.2,"v":218},{"s":"f","t":8.45,"v":232},{"s":"f","t":8.8,"v":236},{"s":"f","t":9,"v":238},{"s":"f","t":9.2,"v":240},{"s":"f","t":9.7,"v":240},{"s":"f","t":9.85,"v":236},{"s":"f","t":10.3,"v":232},{"s":"f","t":10.65,"v":230},{"s":"f","t":10.85,"v":234},{"s":"f","t":11.15,"v":235},{"s":"f","t":11.5,"v":232},{"s":"f","t":11.7,"v":236},{"s":"f","t":12.1,"v":234},{"s":"f","t":12.5,"v":230},{"s":"f","t":12.8,"v":236},{"s":"f","t":13,"v":240},{"s":"f","t":13.45,"v":236},{"s":"f","t":13.8,"v":235},{"s":"f","t":14.25,"v":230},{"s":"f","t":14.55,"v":234},{"s":"f","t":14.7,"v":228},{"s":"f","t":14.95,"v":232},{"s":"f","t":15.25,"v":236},{"s":"f","t":15.35,"v":240},{"s":"f","t":15.65,"v":234},{"s":"f","t":15.75,"v":232},
{"s":"d","t":9.56,"v":49},{"s":"d","t":9.58,"v":40},{"s":"d","t":11.04,"v":35},{"s":"d","t":11.07,"v":28},{"s":"d","t":15.09,"v":35},{"s":"d","t":15.25,"v":28},{"s":"d","t":15.9,"v":40},{"s":"d","t":7.9,"v":26},{"s":"d","t":12.9,"v":27},{"s":"d","t":7.5,"v":26},{"s":"d","t":8.6,"v":26},{"s":"d","t":9.65,"v":27},{"s":"d","t":10.4,"v":26.5},{"s":"d","t":11.15,"v":26.5},{"s":"d","t":12.75,"v":27},{"s":"d","t":14.6,"v":25.5},{"s":"d","t":15.7,"v":26.5},
{"s":"d","t":9.56,"v":5},{"s":"d","t":11.07,"v":8},{"s":"d","t":15.09,"v":9},{"s":"d","t":7.2,"v":10},{"s":"d","t":9.3,"v":10},{"s":"d","t":12.4,"v":11},{"s":"d","t":13.15,"v":15},{"s":"d","t":14.05,"v":15},{"s":"d","t":15.45,"v":11},{"s":"d","t":15.5,"v":12},{"s":"d","t":7.55,"v":12},{"s":"d","t":7.7,"v":11},{"s":"d","t":7.95,"v":12},{"s":"d","t":8.15,"v":11},{"s":"d","t":8.4,"v":12},{"s":"d","t":8.65,"v":11},{"s":"d","t":8.85,"v":12},{"s":"d","t":9.1,"v":11},{"s":"d","t":9.45,"v":12},{"s":"d","t":9.88,"v":11},{"s":"d","t":10,"v":12},{"s":"d","t":10.12,"v":11},{"s":"d","t":10.7,"v":11},{"s":"d","t":10.8,"v":12},{"s":"d","t":10.9,"v":11},{"s":"d","t":11.3,"v":11},{"s":"d","t":11.45,"v":12},{"s":"d","t":11.6,"v":11},{"s":"d","t":11.75,"v":12},{"s":"d","t":11.95,"v":11},{"s":"d","t":12.1,"v":12},{"s":"d","t":12.25,"v":11},{"s":"d","t":12.5,"v":12},{"s":"d","t":12.6,"v":11},{"s":"d","t":14.25,"v":12},{"s":"d","t":14.45,"v":13},{"s":"d","t":15.42,"v":12},{"s":"d","t":15.47,"v":11}
],
"pt":[
{"s":"hz","t":7,"v":2},{"s":"hz","t":7.02,"v":4},{"s":"hz","t":7.04,"v":1},{"s":"hz","t":7.3,"v":0.5},{"s":"hz","t":7.55,"v":0.5},{"s":"hz","t":7.8,"v":1},{"s":"hz","t":7.95,"v":0.5},{"s":"hz","t":8.1,"v":0.5},{"s":"hz","t":8.25,"v":0.5},{"s":"hz","t":8.4,"v":0.5},{"s":"hz","t":8.55,"v":0.5},{"s":"hz","t":8.7,"v":1},{"s":"hz","t":8.85,"v":0.5},{"s":"hz","t":8.95,"v":0.5},{"s":"hz","t":9.1,"v":0.5},{"s":"hz","t":9.3,"v":0.5},{"s":"hz","t":9.45,"v":0.5},{"s":"hz","t":9.6,"v":0.5},{"s":"hz","t":9.8,"v":0.5},{"s":"hz","t":10,"v":0.5},{"s":"hz","t":10.15,"v":0.5},{"s":"hz","t":10.3,"v":0.5},{"s":"hz","t":10.45,"v":0.5},{"s":"hz","t":10.6,"v":0.5},{"s":"hz","t":10.75,"v":0.5},{"s":"hz","t":10.9,"v":0.5},{"s":"hz","t":11.05,"v":0.5},{"s":"hz","t":11.2,"v":0.5},{"s":"hz","t":11.35,"v":0.5},{"s":"hz","t":11.5,"v":1},{"s":"hz","t":11.65,"v":0.5},{"s":"hz","t":11.8,"v":0.5},{"s":"hz","t":11.95,"v":0.5},{"s":"hz","t":12.1,"v":0.5},{"s":"hz","t":12.25,"v":0.5},{"s":"hz","t":12.4,"v":0.5},{"s":"hz","t":12.55,"v":0.5},{"s":"hz","t":12.7,"v":0.5},{"s":"hz","t":12.85,"v":0.5},{"s":"hz","t":13,"v":0.5},{"s":"hz","t":13.15,"v":0.5},{"s":"hz","t":13.3,"v":0.5},{"s":"hz","t":13.45,"v":0.5},{"s":"hz","t":13.6,"v":0.5},{"s":"hz","t":13.75,"v":0.5},{"s":"hz","t":13.9,"v":0.5},{"s":"hz","t":14.05,"v":0.5},{"s":"hz","t":14.2,"v":0.5},{"s":"hz","t":14.35,"v":0.5},{"s":"hz","t":14.5,"v":0.5},{"s":"hz","t":14.65,"v":0.5},{"s":"hz","t":14.8,"v":0.5},{"s":"hz","t":14.95,"v":0.5},{"s":"hz","t":15.1,"v":0.5},{"s":"hz","t":15.25,"v":0.5},{"s":"hz","t":15.4,"v":0.5},{"s":"hz","t":15.55,"v":0.5},{"s":"hz","t":15.7,"v":0.5},{"s":"hz","t":15.85,"v":0.5},
{"s":"hz","t":7.45,"v":8},{"s":"hz","t":8.6,"v":10},{"s":"hz","t":9,"v":12},{"s":"hz","t":9.7,"v":35},{"s":"hz","t":10.8,"v":8},{"s":"hz","t":12.95,"v":38},{"s":"hz","t":14.5,"v":10},{"s":"hz","t":15.2,"v":8},{"s":"hz","t":8.2,"v":36},{"s":"hz","t":7.7,"v":5},
{"s":"lm","t":7.2,"v":92},{"s":"lm","t":7.5,"v":94},{"s":"lm","t":8.15,"v":108},{"s":"lm","t":8.42,"v":106},{"s":"lm","t":8.82,"v":91},{"s":"lm","t":7.24,"v":43},{"s":"lm","t":7.57,"v":49},{"s":"lm","t":8.13,"v":23},{"s":"lm","t":8.3,"v":37},{"s":"lm","t":8.4,"v":36},{"s":"lm","t":8.5,"v":49},{"s":"lm","t":8.6,"v":27},{"s":"lm","t":8.75,"v":25},{"s":"lm","t":8.9,"v":28},{"s":"lm","t":9,"v":25},{"s":"lm","t":10.97,"v":106},{"s":"lm","t":12.28,"v":104},{"s":"lm","t":12.43,"v":100},{"s":"lm","t":9.6,"v":42},{"s":"lm","t":9.9,"v":40},{"s":"lm","t":10.05,"v":35},{"s":"lm","t":10.18,"v":38},{"s":"lm","t":10.7,"v":36},{"s":"lm","t":10.88,"v":46},{"s":"lm","t":10.97,"v":33},{"s":"lm","t":11.9,"v":46},{"s":"lm","t":11.93,"v":42},{"s":"lm","t":12.24,"v":37},{"s":"lm","t":13.7,"v":97},{"s":"lm","t":13.73,"v":96},{"s":"lm","t":13.57,"v":83},{"s":"lm","t":14,"v":81},{"s":"lm","t":12.42,"v":66},{"s":"lm","t":13,"v":42},{"s":"lm","t":12.5,"v":35},{"s":"lm","t":13.4,"v":32},{"s":"lm","t":13.86,"v":27},{"s":"lm","t":13.9,"v":34},{"s":"lm","t":14.04,"v":33},{"s":"lm","t":14.1,"v":46},{"s":"lm","t":14.16,"v":35},{"s":"lm","t":14.35,"v":35},{"s":"lm","t":14.8,"v":46},{"s":"lm","t":14.9,"v":33},{"s":"lm","t":15.32,"v":38},{"s":"lm","t":15.5,"v":43},{"s":"lm","t":15.65,"v":35},{"s":"lm","t":15.8,"v":29},{"s":"lm","t":15.93,"v":25},{"s":"lm","t":15.1,"v":37},{"s":"lm","t":9.2,"v":24},{"s":"lm","t":9.45,"v":26},{"s":"lm","t":10.3,"v":22},{"s":"lm","t":10.55,"v":24},{"s":"lm","t":11.1,"v":25},{"s":"lm","t":11.4,"v":28},{"s":"lm","t":11.65,"v":22},{"s":"lm","t":12,"v":24},{"s":"lm","t":12.7,"v":22},{"s":"lm","t":13.2,"v":20},{"s":"lm","t":13.6,"v":22},{"s":"lm","t":14.25,"v":28},{"s":"lm","t":14.55,"v":22},{"s":"lm","t":15,"v":24},{"s":"lm","t":15.2,"v":30},{"s":"lm","t":15.45,"v":26},{"s":"lm","t":15.7,"v":22},
{"s":"lk","t":9.05,"v":87},{"s":"lk","t":12.4,"v":82},{"s":"lk","t":11.2,"v":80},{"s":"lk","t":11.53,"v":82},{"s":"lk","t":11.75,"v":82},{"s":"lk","t":11.04,"v":41},{"s":"lk","t":9.6,"v":33},{"s":"lk","t":13.09,"v":81},{"s":"lk","t":14.4,"v":80},{"s":"lk","t":15.15,"v":82},{"s":"lk","t":15.13,"v":46},{"s":"lk","t":7.9,"v":78},{"s":"lk","t":8.3,"v":79},
{"s":"lg","t":11.04,"v":35},{"s":"lg","t":12.84,"v":76},{"s":"lg","t":15.87,"v":50},{"s":"lg","t":15.14,"v":42},
{"s":"qe","t":7.28,"v":2.19},{"s":"qe","t":7.65,"v":1.8},{"s":"qe","t":8.18,"v":2.19},{"s":"qe","t":8.47,"v":2.19},{"s":"qe","t":8.9,"v":1.79},{"s":"qe","t":10.5,"v":2.15},{"s":"qe","t":11.9,"v":1.76},{"s":"qe","t":13.3,"v":2.12},{"s":"qe","t":14.2,"v":1.72},{"s":"qe","t":15.4,"v":1.7},{"s":"qe","t":15.7,"v":2.1},
{"s":"qo","t":8.98,"v":2.27},{"s":"qo","t":9.57,"v":2.27},{"s":"qo","t":9.83,"v":2.29},{"s":"qo","t":10.15,"v":2.2},{"s":"qo","t":10.48,"v":2.15},{"s":"qo","t":10.65,"v":2.09},{"s":"qo","t":10.84,"v":2.15},{"s":"qo","t":11.03,"v":1.89},{"s":"qo","t":11.05,"v":1.71},{"s":"qo","t":11.07,"v":2.15},{"s":"qo","t":11.32,"v":2.25},{"s":"qo","t":11.88,"v":2.2},{"s":"qo","t":12.27,"v":2.2},{"s":"qo","t":13.12,"v":2.17},{"s":"qo","t":13.87,"v":2.17},{"s":"qo","t":14.2,"v":2.13},{"s":"qo","t":14.85,"v":2.15},{"s":"qo","t":15.97,"v":1.97},{"s":"qo","t":7.31,"v":2.24},{"s":"qo","t":8.26,"v":2.29},
{"s":"qr","t":8.84,"v":15.7},{"s":"qr","t":8.96,"v":14.3},{"s":"qr","t":9.06,"v":14.3},{"s":"qr","t":9.22,"v":15},{"s":"qr","t":9.42,"v":14.7},{"s":"qr","t":9.5,"v":14.3},{"s":"qr","t":10,"v":19},{"s":"qr","t":10.02,"v":13.5},{"s":"qr","t":10.16,"v":14.3},{"s":"qr","t":10.27,"v":16.6},{"s":"qr","t":10.24,"v":13.5},{"s":"qr","t":10.49,"v":13.5},{"s":"qr","t":10.7,"v":18},{"s":"qr","t":10.72,"v":13},{"s":"qr","t":10.9,"v":18},{"s":"qr","t":10.98,"v":16.6},{"s":"qr","t":10.95,"v":14.3},{"s":"qr","t":11.07,"v":14.3},{"s":"qr","t":11.36,"v":15.3},{"s":"qr","t":11.48,"v":14.3},{"s":"qr","t":11.56,"v":18},{"s":"qr","t":11.7,"v":15},{"s":"qr","t":11.76,"v":18},{"s":"qr","t":11.97,"v":18},{"s":"qr","t":12.07,"v":13.5},{"s":"qr","t":12.16,"v":14.3},{"s":"qr","t":12.27,"v":13.5},{"s":"qr","t":12.39,"v":17.8},{"s":"qr","t":12.43,"v":15},{"s":"qr","t":12.51,"v":16.5},{"s":"qr","t":12.66,"v":14.3},{"s":"qr","t":12.88,"v":17.8},{"s":"qr","t":13.22,"v":15.7},{"s":"qr","t":13.42,"v":13},{"s":"qr","t":13.54,"v":16.5},{"s":"qr","t":13.7,"v":17.8},{"s":"qr","t":13.8,"v":13.5},{"s":"qr","t":13.95,"v":14.3},{"s":"qr","t":14.1,"v":17.8},{"s":"qr","t":14.2,"v":14.3},{"s":"qr","t":14.6,"v":16.5},{"s":"qr","t":14.82,"v":17},{"s":"qr","t":14.87,"v":17.4},{"s":"qr","t":15.15,"v":18},{"s":"qr","t":15.22,"v":16.6},{"s":"qr","t":15.28,"v":13},{"s":"qr","t":15.42,"v":17.8},{"s":"qr","t":15.8,"v":15.3},{"s":"qr","t":15.87,"v":14.3},{"s":"qr","t":7.02,"v":15.3},{"s":"qr","t":7.14,"v":16.3},{"s":"qr","t":7.46,"v":18},{"s":"qr","t":7.6,"v":15.3},{"s":"qr","t":7.83,"v":17},{"s":"qr","t":8.14,"v":15.3},{"s":"qr","t":8.56,"v":16.3},{"s":"qr","t":9.25,"v":1.5},{"s":"qr","t":10.5,"v":1.8},{"s":"qr","t":13.5,"v":1.5}
]
},
"vconcat":[
{"width":1038,"height":88.5,
 "encoding":{"x":{"field":"t","type":"quantitative","scale":{"domain":[7,15.98],"nice":false,"zero":false},"axis":{"values":[7,7.3333,7.6667,8,8.3333,8.6667,9,9.3333,9.6667,10,10.3333,10.6667,11,11.3333,11.6667,12,12.3333,12.6667,13,13.3333,13.6667,14,14.3333,14.6667,15,15.3333,15.6667],"labels":false,"title":null,"tickSize":{"condition":{"test":"datum.value % 1 == 0","value":-10},"value":-3},"tickWidth":{"condition":{"test":"datum.value % 1 == 0","value":2.5},"value":1.5},"gridOpacity":{"condition":{"test":"datum.value % 1 == 0 && datum.value > 7","value":1},"value":0}}}},
 "resolve":{"scale":{"y":"independent"}},
 "layer":[
  {"resolve":{"axis":{"y":"independent"}},
   "layer":[
   {"data":{"name":"ir"},"mark":{"type":"line","color":"#ff0000","strokeWidth":1.5},
    "encoding":{"y":{"field":"v","type":"quantitative","scale":{"domain":[0,1650],"nice":false,"zero":false},
     "axis":{"title":"I [mA]","titleX":-48,"labelOverlap":false,"values":[0,50,100,150,200,250,300,350,400,450,500,550,600,650,700,750,800,850,900,950,1000,1050,1100,1150,1200,1250,1300,1350,1400,1450,1500,1550,1600,1650],"labelExpr":"datum.value % 500 == 0 ? '' + datum.value : ''","tickSize":{"condition":{"test":"datum.value % 500 == 0","value":-23},"value":-8},"tickWidth":{"condition":{"test":"datum.value % 500 == 0","value":2.5},"value":1.5},"gridOpacity":{"condition":{"test":"datum.value % 500 == 0 && datum.value > 0","value":1},"value":0}}}}},
   {"data":{"name":"ib"},"mark":{"type":"line","color":"#0000ff","strokeWidth":2},"encoding":{"y":{"field":"v","type":"quantitative","axis":null}}}
  ]},
  {"data":{"name":"m"},"mark":{"type":"line","color":"#f2a100","strokeWidth":4},
   "encoding":{"y":{"field":"o","type":"quantitative","scale":{"domain":[0,5.2],"nice":false,"zero":false},
    "axis":{"orient":"right","title":"Lum(10³⁴)","titleX":23,"labelOverlap":false,"values":[0,0.2,0.4,0.6,0.8,1,1.2,1.4,1.6,1.8,2,2.2,2.4,2.6,2.8,3,3.2,3.4,3.6,3.8,4,4.2,4.4,4.6,4.8,5,5.2],"labelExpr":"datum.value % 1 == 0 ? '' + datum.value : ''","tickSize":{"condition":{"test":"datum.value % 1 == 0","value":-21},"value":-8},"tickWidth":{"condition":{"test":"datum.value % 1 == 0","value":2.5},"value":1.5}}}}}
 ]},
{"width":1038,"height":88.5,
 "encoding":{"x":{"field":"t","type":"quantitative","scale":{"domain":[7,15.98],"nice":false,"zero":false},"axis":{"values":[7,7.3333,7.6667,8,8.3333,8.6667,9,9.3333,9.6667,10,10.3333,10.6667,11,11.3333,11.6667,12,12.3333,12.6667,13,13.3333,13.6667,14,14.3333,14.6667,15,15.3333,15.6667],"labels":false,"title":null,"tickSize":{"condition":{"test":"datum.value % 1 == 0","value":-10},"value":-3},"tickWidth":{"condition":{"test":"datum.value % 1 == 0","value":2.5},"value":1.5},"gridOpacity":{"condition":{"test":"datum.value % 1 == 0 && datum.value > 7","value":1},"value":0}}}},
 "resolve":{"axis":{"y":"independent"}},
 "layer":[
  {"data":{"name":"m"},"mark":{"type":"area","color":"#000000","opacity":1},
   "encoding":{"y":{"field":"hb0","type":"quantitative","scale":{"domain":[0,111],"nice":false,"zero":false},
    "axis":{"title":"Effₕ [%]","titleX":-45,"labelOverlap":false,"values":[0,4,8,12,16,20,24,28,32,36,40,44,48,52,56,60,64,68,72,76,80,84,88,92,96,100,104,108],"labelExpr":"datum.value % 20 == 0 ? '' + datum.value : ''","tickSize":{"condition":{"test":"datum.value % 20 == 0","value":-23},"value":-8},"tickWidth":{"condition":{"test":"datum.value % 20 == 0","value":2.5},"value":1.5},"gridOpacity":{"condition":{"test":"datum.value % 20 == 0 && datum.value > 0","value":1},"value":0}}},
    "y2":{"field":"hb1"}}},
  {"data":{"name":"m"},"mark":{"type":"area","color":"#a020f0","opacity":1},"encoding":{"y":{"field":"hp0","type":"quantitative","axis":null},"y2":{"field":"hp1"}}},
  {"data":{"name":"pt"},"transform":[{"filter":"datum.s == 'hz'"}],"mark":{"type":"square","size":10,"color":"#a020f0","opacity":1},"encoding":{"y":{"field":"v","type":"quantitative","axis":null}}}
 ]},
{"width":1038,"height":88.5,
 "encoding":{"x":{"field":"t","type":"quantitative","scale":{"domain":[7,15.98],"nice":false,"zero":false},"axis":{"values":[7,7.3333,7.6667,8,8.3333,8.6667,9,9.3333,9.6667,10,10.3333,10.6667,11,11.3333,11.6667,12,12.3333,12.6667,13,13.3333,13.6667,14,14.3333,14.6667,15,15.3333,15.6667],"labels":false,"title":null,"tickSize":{"condition":{"test":"datum.value % 1 == 0","value":-10},"value":-3},"tickWidth":{"condition":{"test":"datum.value % 1 == 0","value":2.5},"value":1.5},"gridOpacity":{"condition":{"test":"datum.value % 1 == 0 && datum.value > 7","value":1},"value":0}}}},
 "resolve":{"scale":{"y":"independent"}},
 "layer":[
  {"resolve":{"axis":{"y":"independent"}},
   "layer":[
   {"data":{"name":"m"},"mark":{"type":"area","color":"#0000ff","opacity":1},
    "encoding":{"y":{"field":"q0","type":"quantitative","scale":{"domain":[0,2.37],"nice":false,"zero":false},
     "axis":{"title":"Qₑ [nC]","titleX":-46,"labelOverlap":false,"values":[0,0.1,0.2,0.3,0.4,0.5,0.6,0.7,0.8,0.9,1,1.1,1.2,1.3,1.4,1.5,1.6,1.7,1.8,1.9,2,2.1,2.2,2.3],"labelExpr":"datum.value % 0.5 == 0 ? '' + datum.value : ''","tickSize":{"condition":{"test":"datum.value % 0.5 == 0","value":-23},"value":-8},"tickWidth":{"condition":{"test":"datum.value % 0.5 == 0","value":2.5},"value":1.5},"gridOpacity":{"condition":{"test":"datum.value % 0.5 == 0 && datum.value > 0","value":1},"value":0}}},
     "y2":{"field":"q1"}}},
   {"data":{"name":"pt"},"transform":[{"filter":"datum.s == 'qe'"}],"mark":{"type":"square","size":12,"color":"#0000ff","opacity":1},"encoding":{"y":{"field":"v","type":"quantitative","axis":null}}}
  ]},
  {"resolve":{"axis":{"y":"independent"}},
   "layer":[
   {"data":{"name":"rep"},"transform":[{"filter":"datum.s == 'ek'"}],"mark":{"type":"line","color":"#000000","strokeWidth":3},
    "encoding":{"y":{"field":"v","type":"quantitative","scale":{"domain":[0,50.7],"nice":false,"zero":false},
     "axis":{"orient":"right","title":"Rep. (Hz)","titleX":30,"labelOverlap":false,"values":[0,2,4,6,8,10,12,14,16,18,20,22,24,26,28,30,32,34,36,38,40,42,44,46,48,50],"labelExpr":"datum.value % 10 == 0 ? '' + datum.value : ''","tickSize":{"condition":{"test":"datum.value % 10 == 0","value":-21},"value":-8},"tickWidth":{"condition":{"test":"datum.value % 10 == 0","value":2.5},"value":1.5}}}}},
   {"data":{"name":"rep"},"transform":[{"filter":"datum.s == 'ec'"}],"mark":{"type":"line","color":"#00ffff","strokeWidth":4},"encoding":{"y":{"field":"v","type":"quantitative","axis":null}}}
  ]}
 ]},
{"width":1038,"height":88.5,
 "encoding":{"x":{"field":"t","type":"quantitative","scale":{"domain":[7,15.98],"nice":false,"zero":false},"axis":{"values":[7,7.3333,7.6667,8,8.3333,8.6667,9,9.3333,9.6667,10,10.3333,10.6667,11,11.3333,11.6667,12,12.3333,12.6667,13,13.3333,13.6667,14,14.3333,14.6667,15,15.3333,15.6667],"labels":false,"title":null,"tickSize":{"condition":{"test":"datum.value % 1 == 0","value":-10},"value":-3},"tickWidth":{"condition":{"test":"datum.value % 1 == 0","value":2.5},"value":1.5},"gridOpacity":{"condition":{"test":"datum.value % 1 == 0 && datum.value > 7","value":1},"value":0}}}},
 "resolve":{"axis":{"y":"independent"}},
 "layer":[
  {"data":{"name":"m"},"mark":{"type":"area","color":"#006400","opacity":1},
   "encoding":{"y":{"field":"g0","type":"quantitative","scale":{"domain":[0,150],"nice":false,"zero":false},
    "axis":{"title":["QCS BW180","[mRad/s]"],"titleX":-57,"labelOverlap":false,"values":[0,5,10,15,20,25,30,35,40,45,50,55,60,65,70,75,80,85,90,95,100,105,110,115,120,125,130,135,140,145,150],"labelExpr":"datum.value % 50 == 0 ? '' + datum.value : ''","tickSize":{"condition":{"test":"datum.value % 50 == 0","value":-23},"value":-8},"tickWidth":{"condition":{"test":"datum.value % 50 == 0","value":2.5},"value":1.5},"gridOpacity":{"condition":{"test":"datum.value % 50 == 0 && datum.value > 0","value":1},"value":0}}},
    "y2":{"field":"g1"}}},
  {"data":{"name":"sp"},"transform":[{"filter":"datum.s == 'g'"}],"mark":{"type":"rule","color":"#006400","strokeWidth":1.2},"encoding":{"y":{"field":"v","type":"quantitative","axis":null},"y2":{"datum":30}}}
 ]},
{"width":1038,"height":88.5,
 "encoding":{"x":{"field":"t","type":"quantitative","scale":{"domain":[7,15.98],"nice":false,"zero":false},"axis":{"values":[7,7.3333,7.6667,8,8.3333,8.6667,9,9.3333,9.6667,10,10.3333,10.6667,11,11.3333,11.6667,12,12.3333,12.6667,13,13.3333,13.6667,14,14.3333,14.6667,15,15.3333,15.6667],"labels":false,"title":null,"tickSize":{"condition":{"test":"datum.value % 1 == 0","value":-10},"value":-3},"tickWidth":{"condition":{"test":"datum.value % 1 == 0","value":2.5},"value":1.5},"gridOpacity":{"condition":{"test":"datum.value % 1 == 0 && datum.value > 7","value":1},"value":0}}}},
 "resolve":{"axis":{"y":"independent"}},
 "layer":[
  {"data":{"name":"m"},"mark":{"type":"area","color":"#000000","opacity":1},
   "encoding":{"y":{"field":"lb0","type":"quantitative","scale":{"domain":[0,111],"nice":false,"zero":false},
    "axis":{"title":"Effₗ [%]","titleX":-44,"labelOverlap":false,"values":[0,4,8,12,16,20,24,28,32,36,40,44,48,52,56,60,64,68,72,76,80,84,88,92,96,100,104,108],"labelExpr":"datum.value % 20 == 0 ? '' + datum.value : ''","tickSize":{"condition":{"test":"datum.value % 20 == 0","value":-23},"value":-8},"tickWidth":{"condition":{"test":"datum.value % 20 == 0","value":2.5},"value":1.5},"gridOpacity":{"condition":{"test":"datum.value % 20 == 0 && datum.value > 0","value":1},"value":0}}},
    "y2":{"field":"lb1"}}},
  {"data":{"name":"m"},"mark":{"type":"area","color":"#808080","opacity":1},"encoding":{"y":{"field":"lg0","type":"quantitative","axis":null},"y2":{"field":"lg1"}}},
  {"data":{"name":"m"},"mark":{"type":"area","color":"#ff00ff","opacity":1},"encoding":{"y":{"field":"lm0","type":"quantitative","axis":null},"y2":{"field":"lm1"}}},
  {"data":{"name":"rep"},"transform":[{"filter":"datum.s == 'lm2'"}],"mark":{"type":"line","color":"#ff00ff","strokeWidth":6},"encoding":{"y":{"field":"v","type":"quantitative","axis":null}}},
  {"data":{"name":"pt"},"transform":[{"filter":"datum.s == 'lm'"}],"mark":{"type":"square","size":10,"color":"#ff00ff","opacity":1},"encoding":{"y":{"field":"v","type":"quantitative","axis":null}}},
  {"data":{"name":"pt"},"transform":[{"filter":"datum.s == 'lk'"}],"mark":{"type":"square","size":14,"color":"#000000","opacity":1},"encoding":{"y":{"field":"v","type":"quantitative","axis":null}}},
  {"data":{"name":"pt"},"transform":[{"filter":"datum.s == 'lg'"}],"mark":{"type":"square","size":14,"color":"#808080","opacity":1},"encoding":{"y":{"field":"v","type":"quantitative","axis":null}}}
 ]},
{"width":1038,"height":88.5,
 "encoding":{"x":{"field":"t","type":"quantitative","scale":{"domain":[7,15.98],"nice":false,"zero":false},"axis":{"values":[7,7.3333,7.6667,8,8.3333,8.6667,9,9.3333,9.6667,10,10.3333,10.6667,11,11.3333,11.6667,12,12.3333,12.6667,13,13.3333,13.6667,14,14.3333,14.6667,15,15.3333,15.6667],"labels":false,"title":null,"tickSize":{"condition":{"test":"datum.value % 1 == 0","value":-10},"value":-3},"tickWidth":{"condition":{"test":"datum.value % 1 == 0","value":2.5},"value":1.5},"gridOpacity":{"condition":{"test":"datum.value % 1 == 0 && datum.value > 7","value":1},"value":0}}}},
 "resolve":{"scale":{"y":"independent"}},
 "layer":[
  {"resolve":{"axis":{"y":"independent"}},
   "layer":[
   {"data":{"name":"m"},"mark":{"type":"area","color":"#ff0000","opacity":1},
    "encoding":{"y":{"field":"pr0","type":"quantitative","scale":{"domain":[0,3.12],"nice":false,"zero":false},
     "axis":{"title":"Qₚ [nC]","titleX":-46,"labelOverlap":false,"values":[0,0.1,0.2,0.3,0.4,0.5,0.6,0.7,0.8,0.9,1,1.1,1.2,1.3,1.4,1.5,1.6,1.7,1.8,1.9,2,2.1,2.2,2.3,2.4,2.5,2.6,2.7,2.8,2.9,3,3.1],"labelExpr":"datum.value % 0.5 == 0 ? '' + datum.value : ''","tickSize":{"condition":{"test":"datum.value % 0.5 == 0","value":-23},"value":-8},"tickWidth":{"condition":{"test":"datum.value % 0.5 == 0","value":2.5},"value":1.5},"gridOpacity":{"condition":{"test":"datum.value % 0.5 == 0 && datum.value > 0","value":1},"value":0}}},
     "y2":{"field":"pr1"}}},
   {"data":{"name":"m"},"mark":{"type":"area","color":"#ffa500","opacity":1},"encoding":{"y":{"field":"po0","type":"quantitative","axis":null},"y2":{"field":"po1"}}},
   {"data":{"name":"pt"},"transform":[{"filter":"datum.s == 'qo'"}],"mark":{"type":"square","size":12,"color":"#ffa500","opacity":1},"encoding":{"y":{"field":"v","type":"quantitative","axis":null}}}
  ]},
  {"resolve":{"axis":{"y":"independent"}},
   "layer":[
   {"data":{"name":"rep"},"transform":[{"filter":"datum.s == 'pk'"}],"mark":{"type":"line","color":"#000000","strokeWidth":3},
    "encoding":{"y":{"field":"v","type":"quantitative","scale":{"domain":[0,51],"nice":false,"zero":false},
     "axis":{"orient":"right","title":"Rep. (Hz)","titleX":30,"labelOverlap":false,"values":[0,2,4,6,8,10,12,14,16,18,20,22,24,26,28,30,32,34,36,38,40,42,44,46,48,50],"labelExpr":"datum.value % 10 == 0 ? '' + datum.value : ''","tickSize":{"condition":{"test":"datum.value % 10 == 0","value":-21},"value":-8},"tickWidth":{"condition":{"test":"datum.value % 10 == 0","value":2.5},"value":1.5}}}}},
   {"data":{"name":"rep"},"transform":[{"filter":"datum.s == 'pc'"}],"mark":{"type":"line","color":"#ffa500","strokeWidth":3.5},"encoding":{"y":{"field":"v","type":"quantitative","axis":null}}},
   {"data":{"name":"pt"},"transform":[{"filter":"datum.s == 'qr'"}],"mark":{"type":"square","size":12,"color":"#ff0000","opacity":1},"encoding":{"y":{"field":"v","type":"quantitative","axis":null}}}
  ]}
 ]},
{"width":1038,"height":88.5,
 "encoding":{"x":{"field":"t","type":"quantitative","scale":{"domain":[7,15.98],"nice":false,"zero":false},"axis":{"values":[7,7.3333,7.6667,8,8.3333,8.6667,9,9.3333,9.6667,10,10.3333,10.6667,11,11.3333,11.6667,12,12.3333,12.6667,13,13.3333,13.6667,14,14.3333,14.6667,15,15.3333,15.6667],"labels":false,"title":null,"tickSize":{"condition":{"test":"datum.value % 1 == 0","value":-10},"value":-3},"tickWidth":{"condition":{"test":"datum.value % 1 == 0","value":2.5},"value":1.5},"gridOpacity":{"condition":{"test":"datum.value % 1 == 0 && datum.value > 7","value":1},"value":0}}}},
 "resolve":{"axis":{"y":"independent"}},
 "layer":[
  {"data":{"name":"m"},"mark":{"type":"area","color":"#0000ff","opacity":1},
   "encoding":{"y":{"field":"f0","type":"quantitative","scale":{"domain":[0,500],"nice":false,"zero":false},
    "axis":{"title":["QCS FW135","[mRad/s]"],"titleX":-57,"labelOverlap":false,"values":[0,20,40,60,80,100,120,140,160,180,200,220,240,260,280,300,320,340,360,380,400,420,440,460,480,500],"labelExpr":"datum.value % 100 == 0 ? '' + datum.value : ''","tickSize":{"condition":{"test":"datum.value % 100 == 0","value":-23},"value":-8},"tickWidth":{"condition":{"test":"datum.value % 100 == 0","value":2.5},"value":1.5},"gridOpacity":{"condition":{"test":"datum.value % 100 == 0 && datum.value > 0","value":1},"value":0}}},
    "y2":{"field":"f1"}}},
  {"data":{"name":"sp"},"transform":[{"filter":"datum.s == 'f'"}],"mark":{"type":"rule","color":"#0000ff","strokeWidth":1.2},"encoding":{"y":{"field":"v","type":"quantitative","axis":null},"y2":{"datum":320}}}
 ]},
{"width":1038,"height":88.5,
 "encoding":{"x":{"field":"t","type":"quantitative","scale":{"domain":[7,15.98],"nice":false,"zero":false},"axis":{"values":[7,7.3333,7.6667,8,8.3333,8.6667,9,9.3333,9.6667,10,10.3333,10.6667,11,11.3333,11.6667,12,12.3333,12.6667,13,13.3333,13.6667,14,14.3333,14.6667,15,15.3333,15.6667],"labels":true,"labelExpr":"datum.value % 1 == 0 ? (datum.value == 7 ? '7ʰ0ᵐ0ˢ' : datum.value + 'ʰ') : ''","labelFontSize":22,"labelPadding":23,"labelOffset":{"condition":{"test":"datum.value == 7","value":17},"value":0},"title":"5/19/2026","titleFontSize":22,"titleFontWeight":"normal","titleX":-62,"titleY":55,"titleAlign":"left","titleAnchor":"start","titleBaseline":"alphabetic","tickSize":{"condition":{"test":"datum.value % 1 == 0","value":-10},"value":-3},"tickWidth":{"condition":{"test":"datum.value % 1 == 0","value":2.5},"value":1.5},"gridOpacity":{"condition":{"test":"datum.value % 1 == 0 && datum.value > 7","value":1},"value":0}}}},
 "resolve":{"axis":{"y":"independent"}},
 "layer":[
  {"data":{"name":"bp"},"mark":{"type":"area","color":"#ff00ff","opacity":1},
   "encoding":{"y":{"field":"lo","type":"quantitative","scale":{"domain":[0,50],"nice":false,"zero":false},
    "axis":{"title":["BP","Diamond"],"titleX":-45.5,"titleLineHeight":19,"labelOverlap":false,"values":[0,2,4,6,8,10,12,14,16,18,20,22,24,26,28,30,32,34,36,38,40,42,44,46,48,50],"labelExpr":"datum.value % 10 == 0 ? '' + datum.value : ''","tickSize":{"condition":{"test":"datum.value % 10 == 0","value":-23},"value":-8},"tickWidth":{"condition":{"test":"datum.value % 10 == 0","value":2.5},"value":1.5},"gridOpacity":{"condition":{"test":"datum.value % 10 == 0 && datum.value > 0","value":1},"value":0}}},
    "y2":{"field":"hi"}}},
  {"data":{"name":"sp"},"transform":[{"filter":"datum.s == 'd'"}],"mark":{"type":"rule","color":"#ff00ff","strokeWidth":1.5},"encoding":{"y":{"field":"v","type":"quantitative","axis":null},"y2":{"datum":20}}}
 ]}
]
}
